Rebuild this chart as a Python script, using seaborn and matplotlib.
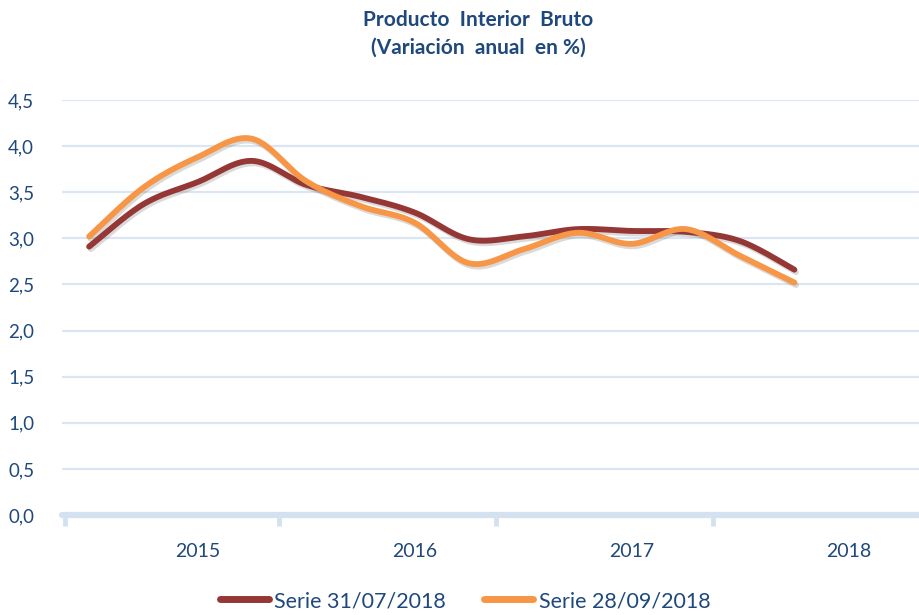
import numpy as np
import pandas as pd
import seaborn as sns
import matplotlib.pyplot as plt
import matplotlib.patheffects as pe
from matplotlib.ticker import FuncFormatter, FixedLocator

# quarterly GDP growth, 2015Q1 .. 2018Q2
quarters = ["2015T1", "2015T2", "2015T3", "2015T4",
            "2016T1", "2016T2", "2016T3", "2016T4",
            "2017T1", "2017T2", "2017T3", "2017T4",
            "2018T1", "2018T2"]
serie_jul = [2.91, 3.37, 3.61, 3.84, 3.58, 3.45, 3.28,
             2.99, 3.02, 3.10, 3.08, 3.07, 2.97, 2.66]
serie_sep = [3.02, 3.55, 3.88, 4.08, 3.62, 3.35, 3.17,
             2.73, 2.88, 3.06, 2.94, 3.10, 2.81, 2.52]
years = ["2015", "2016", "2017", "2018"]
series_names = ["Serie 31/07/2018", "Serie 28/09/2018"]

TEXT = "#1F487C"
GRID = "#DCE6F2"
AXIS = "#D3E1F1"
COLORS = ["#953735", "#F79646"]


def smooth(xs, ys, n=30):
    # excel-like smoothed line: cubic bezier with catmull-rom style controls
    xs = np.asarray(xs, float)
    ys = np.asarray(ys, float)
    px = np.concatenate([[xs[0]], xs, [xs[-1]]])
    py = np.concatenate([[ys[0]], ys, [ys[-1]]])
    out_x, out_y = [], []
    t = np.linspace(0, 1, n)
    for i in range(1, len(px) - 2):
        p0 = np.array([px[i], py[i]])
        p3 = np.array([px[i + 1], py[i + 1]])
        c1 = p0 + (p3 - np.array([px[i - 1], py[i - 1]])) / 6
        c2 = p3 - (np.array([px[i + 2], py[i + 2]]) - p0) / 6
        b = ((1 - t) ** 3)[:, None] * p0 + (3 * (1 - t) ** 2 * t)[:, None] * c1 \
            + (3 * (1 - t) * t ** 2)[:, None] * c2 + (t ** 3)[:, None] * p3
        out_x.extend(b[:, 0])
        out_y.extend(b[:, 1])
    return np.array(out_x), np.array(out_y)


sns.set_style("white")
plt.rcParams["font.family"] = ["Lato", "DejaVu Sans"]

fig = plt.figure(figsize=(9.2, 6.15), dpi=100)
ax = fig.add_axes([62 / 920, 1 - 515 / 615, 1 - 62 / 920, 415 / 615])

# each quarter sits in the middle of its slot on the date axis
xpos = np.arange(len(quarters)) + 0.5

for name, vals, col in zip(series_names, [serie_jul, serie_sep], COLORS):
    sx, sy = smooth(xpos, vals)
    sns.lineplot(x=sx, y=sy, ax=ax, color=col, linewidth=4.2, sort=False,
                 estimator=None, label=name, solid_capstyle="round",
                 path_effects=[pe.SimpleLineShadow(offset=(1.2, -1.8), alpha=0.22,
                                                   shadow_color="#5a5a5a"),
                               pe.Normal()])

ax.set_ylim(0, 4.5)
ax.set_xlim(0, (920 - 62) / 54.25)
ax.set_yticks(np.arange(0, 4.51, 0.5))
ax.yaxis.set_major_formatter(FuncFormatter(lambda v, p: f"{v:.1f}".replace(".", ",")))
for v in np.arange(0.5, 4.51, 0.5):
    ax.axhline(v, color=GRID, linewidth=1.6, zorder=0)
ax.axhline(0, color=AXIS, linewidth=4.5, zorder=1, clip_on=False)

ax.xaxis.set_major_locator(FixedLocator([2.5, 6.5, 10.5, 14.5]))
ax.set_xticklabels(years)
ax.xaxis.set_minor_locator(FixedLocator([0.05, 4, 8, 12]))
ax.tick_params(axis="x", which="major", bottom=False, length=0, pad=20,
               labelsize=14, labelcolor=TEXT)
ax.tick_params(axis="x", which="minor", bottom=True, length=8, width=3.5,
               color=AXIS, direction="out")
ax.tick_params(axis="y", length=0, pad=20, labelsize=13.5, labelcolor=TEXT)
for s in ax.spines.values():
    s.set_visible(False)

fig.text(0.52, 0.968, "Producto  Interior  Bruto", ha="center", va="center",
         fontsize=15, fontweight="bold", color=TEXT)
fig.text(0.52, 0.922, "(Variación  anual  en %)", ha="center", va="center",
         fontsize=15, fontweight="bold", color=TEXT)

leg = ax.legend(loc="center", bbox_to_anchor=(465 / 920, 1 - 601 / 615),
                bbox_transform=fig.transFigure, ncol=2, frameon=False,
                fontsize=15.5, handlelength=2.3, handletextpad=0.25, columnspacing=1.75,
                labelcolor=TEXT)
for h in leg.get_lines():
    h.set_linewidth(5)
    h.set_path_effects([])

fig.savefig("out.png", dpi=100)
